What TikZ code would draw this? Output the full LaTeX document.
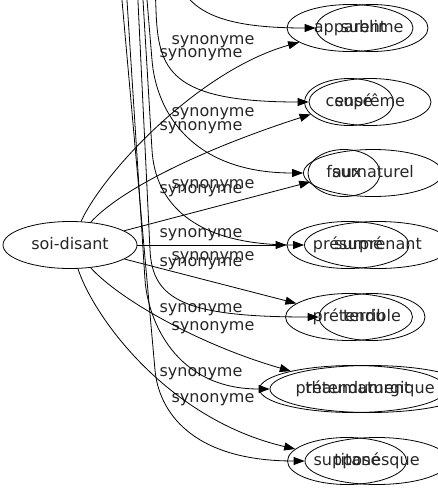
\documentclass[tikz,border=0pt]{standalone}
\usepackage{fontspec}
\setmainfont{DejaVu Sans}
\usetikzlibrary{arrows.meta,shapes.geometric}
\begin{document}
\begin{tikzpicture}[x=1pt,y=-1pt,
  every node/.style={font=\fontsize{16}{19}\selectfont, text=black!85, text height=11.5pt, text depth=3.5pt},
  word/.style={draw=black, ellipse, line width=0.8pt, minimum height=47pt, inner sep=0pt},
  rel/.style={line width=0.8pt, -{Triangle[length=11pt,width=8pt]}},
  lab/.style={inner sep=0pt}]
\useasboundingbox (0,0) rectangle (438,491);
% first graph
\node[word, minimum width=134pt] (soi) at (70,245) {soi-disant};
\node[word, minimum width=126pt] (apparent) at (350,28) {apparent};
\node[word, minimum width=89pt] (cense) at (349,102) {censé};
\node[word, minimum width=72pt] (faux) at (344,173) {faux};
\node[word, minimum width=122pt] (presume) at (348,245) {présumé};
\node[word, minimum width=127pt] (pretendu) at (349,317) {prétendu};
\node[word, minimum width=187pt] (pretendument) at (353,389) {prétendument};
\node[word, minimum width=119pt] (suppose) at (347,461) {supposé};
% second graph
\node[word, minimum width=112pt] (sublime) at (372,28) {sublime};
\node[word, minimum width=122pt] (supreme) at (370,102) {suprême};
\node[word, minimum width=139pt] (surnaturel) at (373,173) {surnaturel};
\node[word, minimum width=147pt] (surprenant) at (378,245) {surprenant};
\node[word, minimum width=106pt] (terrible) at (372,317) {terrible};
\node[word, minimum width=200pt] (thaum) at (370,389) {thaumaturgique};
\node[word, minimum width=144pt] (titan) at (377,461) {titanesque};
% labels
\node[lab] (l1) at (201,53) {synonyme};
\node[lab] (l2) at (201,126) {synonyme};
\node[lab] (l3) at (201,189) {synonyme};
\node[lab] (l4) at (201,233) {synonyme};
\node[lab] (l5) at (201,262) {synonyme};
\node[lab] (l6) at (201,308) {synonyme};
\node[lab] (l7) at (201,372) {synonyme};
\node[lab] (r2) at (213,40) {synonyme};
\node[lab] (r3) at (213,112) {synonyme};
\node[lab] (r4) at (213,184) {synonyme};
\node[lab] (r5) at (213,256) {synonyme};
\node[lab] (r6) at (213,326) {synonyme};
\node[lab] (r7) at (213,398) {synonyme};
% first graph edges
\draw[rel] (soi) .. controls (105,170) and (200,70) .. (apparent);
\draw[rel] (soi) .. controls (120,190) and (200,150) .. (cense);
\draw[rel] (soi) -- (faux);
\draw[rel] (soi) -- (presume);
\draw[rel] (soi) -- (pretendu);
\draw[rel] (soi) .. controls (120,300) and (200,345) .. (pretendument);
\draw[rel] (soi) .. controls (95,320) and (170,420) .. (suppose);
% second graph edges (source above the picture)
\coordinate (s1) at (172,-40);
\coordinate (s2) at (154,-40);
\coordinate (s3) at (143.7,-40);
\coordinate (s4) at (140.6,-40);
\coordinate (s5) at (136,-40);
\coordinate (s6) at (124.4,-40);
\coordinate (s7) at (118.4,-40);
\draw[rel] (s1) .. controls (180,10) and (215,28) .. (sublime);
\draw[rel] (s2) -- (156,10) .. controls (158,70) and (170,102) .. (supreme);
\draw[rel] (s3) -- (152,60) .. controls (156,110) and (190,173) .. (surnaturel);
\draw[rel] (s4) -- (152,150) .. controls (155,200) and (190,245) .. (surprenant);
\draw[rel] (s5) -- (150,250) .. controls (152.4,300) and (185,317) .. (terrible);
\draw[rel] (s6) -- (145,280) .. controls (148,320) and (175,389) .. (thaum);
\draw[rel] (s7) -- (155,370) .. controls (158.6,410) and (190,461) .. (titan);
\end{tikzpicture}
\end{document}
